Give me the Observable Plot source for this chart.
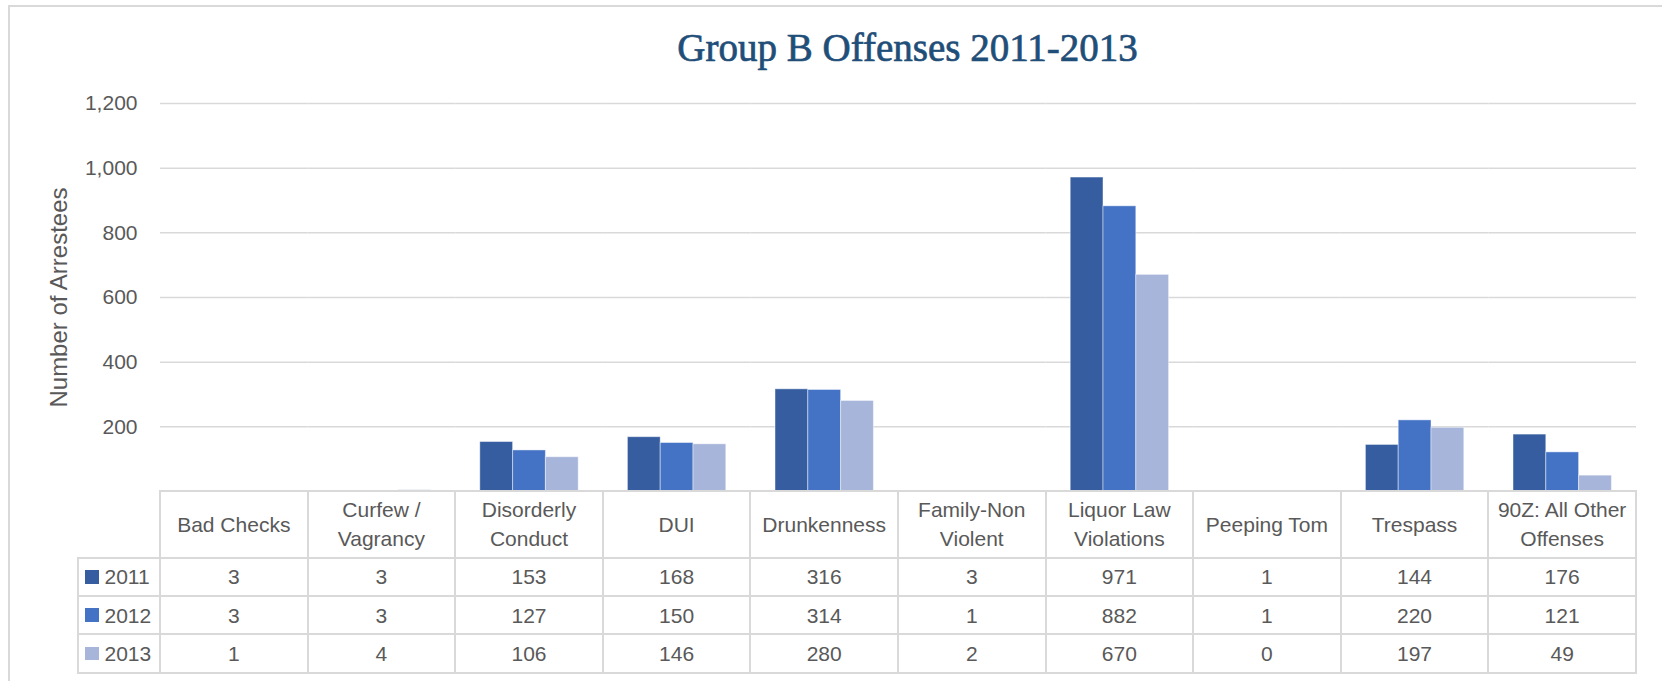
<!DOCTYPE html>
<html>
<head>
<meta charset="utf-8">
<script src="https://cdn.jsdelivr.net/npm/d3@7"></script>
<script src="https://cdn.jsdelivr.net/npm/@observablehq/plot@0.6"></script>
<style>
  html, body { margin: 0; padding: 0; background: #fff; overflow: hidden; }
  #wrap { position: relative; width: 1662px; height: 681px; font-family: "Liberation Sans", Arial, sans-serif; color: #595959; }
  #frame { position: absolute; left: 7.5px; top: 4.5px; width: 1720px; height: 700px; border-left: 2px solid #D9D9D9; border-top: 2px solid #D9D9D9; box-sizing: border-box; }
  #title { position: absolute; left: 907.5px; top: 28px; transform: translateX(-50%); white-space: nowrap;
           font-family: "Liberation Serif", "Times New Roman", serif; font-size: 39px; line-height: 39px; color: #1F4E79;
           -webkit-text-stroke: 0.7px #1F4E79; }
  #chart { position: absolute; left: 0; top: 80px; }
  #chart g[aria-label="y-axis label"] { font-size: 24px; }
  #table { position: absolute; left: 76.5px; top: 490px; display: grid;
           grid-template-columns: 84.5px repeat(10, 147.6px);
           grid-template-rows: 68.7px repeat(3, 38.3px);
           font-size: 21px; color: #595959; }
  .cell { box-sizing: border-box; border-right: 2px solid #D9D9D9; border-bottom: 2px solid #D9D9D9;
          display: flex; align-items: center; justify-content: center; text-align: center; line-height: 29px; white-space: nowrap; }
  .head { border-top: 2px solid #D9D9D9; flex-direction: column; }
  .leg { border-left: 2px solid #D9D9D9; justify-content: flex-start; padding-left: 6.5px; }
  .sw { display: inline-block; width: 13.5px; height: 13.5px; margin-right: 6px; }
</style>
</head>
<body>
<div id="wrap">
  <div id="frame"></div>
  <div id="title">Group B Offenses 2011-2013</div>
  <div id="chart"></div>
  <div id="table"></div>
</div>
<script>
const categories = ["Bad Checks", "Curfew /\nVagrancy", "Disorderly\nConduct", "DUI", "Drunkenness",
  "Family-Non\nViolent", "Liquor Law\nViolations", "Peeping Tom", "Trespass", "90Z: All Other\nOffenses"];
const years = ["2011", "2012", "2013"];
const v2011 = [3, 3, 153, 168, 316, 3, 971, 1, 144, 176];
const v2012 = [3, 3, 127, 150, 314, 1, 882, 1, 220, 121];
const v2013 = [1, 4, 106, 146, 280, 2, 670, 0, 197, 49];
const yTicks = [200, 400, 600, 800, 1000, 1200];
const colors = ["#355D9F", "#4472C4", "#A7B5DA"];
const yLabel = "Number of Arrestees";

const series = [v2011, v2012, v2013];
const rows = [];
categories.forEach((c, i) => years.forEach((y, j) => rows.push({category: c, year: y, value: series[j][i]})));

const plot = Plot.plot({
  width: 1662,
  height: 411,
  marginLeft: 160,
  marginRight: 26,
  marginTop: 23,
  marginBottom: 0,
  style: {fontFamily: "Liberation Sans, Arial, sans-serif", fontSize: "21px", color: "#595959", background: "transparent", overflow: "visible"},
  fx: {domain: categories, padding: 0, round: false, axis: null, label: null},
  x: {domain: years, paddingInner: 0, paddingOuter: 0.75, round: false, axis: null},
  y: {domain: [0, 1200]},
  color: {domain: years, range: colors},
  marks: [
    Plot.gridY(yTicks, {stroke: "#D9D9D9", strokeOpacity: 1, strokeWidth: 1.5}),
    Plot.axisY(yTicks, {tickSize: 0, tickPadding: 23, tickFormat: d3.format(","), label: yLabel,
      labelAnchor: "center", labelOffset: 111, labelArrow: "none"}),
    Plot.barY(rows, {fx: "category", x: "year", y: "value", fill: "year", stroke: "#fff", strokeOpacity: 0.45, strokeWidth: 1})
  ]
});
document.getElementById("chart").appendChild(plot);

// data table below the chart
const table = document.getElementById("table");
function cell(cls, html) {
  const d = document.createElement("div");
  d.className = "cell " + cls;
  d.innerHTML = html;
  table.appendChild(d);
}
cell("", "");
categories.forEach(c => cell("head", c.split("\n").map(s => `<div>${s}</div>`).join("")));
years.forEach((y, j) => {
  cell("leg", `<span class="sw" style="background:${colors[j]}"></span>${y}`);
  series[j].forEach(v => cell("", String(v)));
});
</script>
</body>
</html>
